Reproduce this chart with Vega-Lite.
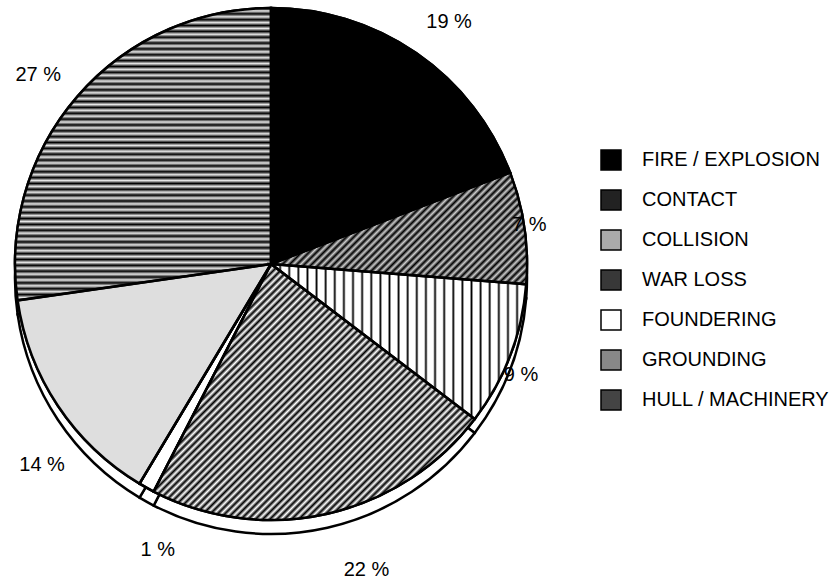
{
"$schema": "https://vega.github.io/schema/vega-lite/v6.json",
"width": 542,
"height": 528,
"padding": {"left": 0, "top": 0, "right": 295, "bottom": 56},
"autosize": {"type": "none"},
"background": "#ffffff",
"config": {"view": {"stroke": null}, "font": "Liberation Sans"},
"data": {"values": [
{"idx": 1, "cause": "FIRE / EXPLOSION", "pct": 19, "label": "19 %"},
{"idx": 2, "cause": "CONTACT", "pct": 7, "label": "7 %"},
{"idx": 3, "cause": "COLLISION", "pct": 9, "label": "9 %"},
{"idx": 4, "cause": "WAR LOSS", "pct": 22, "label": "22 %"},
{"idx": 5, "cause": "FOUNDERING", "pct": 1, "label": "1 %"},
{"idx": 6, "cause": "GROUNDING", "pct": 14, "label": "14 %"},
{"idx": 7, "cause": "HULL / MACHINERY", "pct": 27, "label": "27 %"}
]},
"layer": [
{"mark": {"type": "arc", "radius": 256, "yOffset": 14, "fill": "#ffffff", "stroke": "#000000", "strokeWidth": 2.5},
 "encoding": {"theta": {"field": "pct", "type": "quantitative", "stack": true}, "order": {"field": "idx", "type": "quantitative"}, "detail": {"field": "cause", "type": "nominal"}}},
{"mark": {"type": "arc", "radius": 256, "stroke": "#000000", "strokeWidth": 2.5},
 "encoding": {"theta": {"field": "pct", "type": "quantitative", "stack": true}, "order": {"field": "idx", "type": "quantitative"},
  "color": {"field": "cause", "type": "nominal",
   "scale": {"domain": ["FIRE / EXPLOSION", "CONTACT", "COLLISION", "WAR LOSS", "FOUNDERING", "GROUNDING", "HULL / MACHINERY"], "range": ["#000000", "#222222", "#aaaaaa", "#383838", "#ffffff", "#888888", "#444444"]},
   "legend": {"title": null, "orient": "none", "legendX": 600, "legendY": 149, "symbolType": "square", "symbolSize": 400, "symbolStrokeColor": "#000000", "symbolStrokeWidth": 1.5, "labelFont": "Liberation Sans", "labelFontSize": 20, "labelColor": "#000000", "labelOffset": 20, "rowPadding": 14, "padding": 0, "labelLimit": 400}}}},
{"mark": {"type": "arc", "radius": 256, "strokeWidth": 0, "fill": "#dedede"},
 "encoding": {"theta": {"field": "pct", "type": "quantitative", "stack": true}, "order": {"field": "idx", "type": "quantitative"}, "detail": {"field": "cause", "type": "nominal"},
  "fillOpacity": {"condition": {"test": "datum.idx == 6", "value": 1}, "value": 0}}},
{"mark": {"type": "arc", "radius": 256, "strokeWidth": 0, "fill": {"gradient": "linear", "x1": 0, "y1": 0, "x2": 1.207, "y2": 0.526, "stops": [
{"offset":0,"color":"#000"},{"offset":0.01,"color":"#ccc"},{"offset":0.02,"color":"#000"},{"offset":0.03,"color":"#ccc"},{"offset":0.04,"color":"#000"},{"offset":0.05,"color":"#ccc"},{"offset":0.06,"color":"#000"},{"offset":0.07,"color":"#ccc"},{"offset":0.08,"color":"#000"},{"offset":0.09,"color":"#ccc"},
{"offset":0.1,"color":"#000"},{"offset":0.11,"color":"#ccc"},{"offset":0.12,"color":"#000"},{"offset":0.13,"color":"#ccc"},{"offset":0.14,"color":"#000"},{"offset":0.15,"color":"#ccc"},{"offset":0.16,"color":"#000"},{"offset":0.17,"color":"#ccc"},{"offset":0.18,"color":"#000"},{"offset":0.19,"color":"#ccc"},
{"offset":0.2,"color":"#000"},{"offset":0.21,"color":"#ccc"},{"offset":0.22,"color":"#000"},{"offset":0.23,"color":"#ccc"},{"offset":0.24,"color":"#000"},{"offset":0.25,"color":"#ccc"},{"offset":0.26,"color":"#000"},{"offset":0.27,"color":"#ccc"},{"offset":0.28,"color":"#000"},{"offset":0.29,"color":"#ccc"},
{"offset":0.3,"color":"#000"},{"offset":0.31,"color":"#ccc"},{"offset":0.32,"color":"#000"},{"offset":0.33,"color":"#ccc"},{"offset":0.34,"color":"#000"},{"offset":0.35,"color":"#ccc"},{"offset":0.36,"color":"#000"},{"offset":0.37,"color":"#ccc"},{"offset":0.38,"color":"#000"},{"offset":0.39,"color":"#ccc"},
{"offset":0.4,"color":"#000"},{"offset":0.41,"color":"#ccc"},{"offset":0.42,"color":"#000"},{"offset":0.43,"color":"#ccc"},{"offset":0.44,"color":"#000"},{"offset":0.45,"color":"#ccc"},{"offset":0.46,"color":"#000"},{"offset":0.47,"color":"#ccc"},{"offset":0.48,"color":"#000"},{"offset":0.49,"color":"#ccc"},
{"offset":0.5,"color":"#000"},{"offset":0.51,"color":"#ccc"},{"offset":0.52,"color":"#000"},{"offset":0.53,"color":"#ccc"},{"offset":0.54,"color":"#000"},{"offset":0.55,"color":"#ccc"},{"offset":0.56,"color":"#000"},{"offset":0.57,"color":"#ccc"},{"offset":0.58,"color":"#000"},{"offset":0.59,"color":"#ccc"},
{"offset":0.6,"color":"#000"},{"offset":0.61,"color":"#ccc"},{"offset":0.62,"color":"#000"},{"offset":0.63,"color":"#ccc"},{"offset":0.64,"color":"#000"},{"offset":0.65,"color":"#ccc"},{"offset":0.66,"color":"#000"},{"offset":0.67,"color":"#ccc"},{"offset":0.68,"color":"#000"},{"offset":0.69,"color":"#ccc"},
{"offset":0.7,"color":"#000"},{"offset":0.71,"color":"#ccc"},{"offset":0.72,"color":"#000"},{"offset":0.73,"color":"#ccc"},{"offset":0.74,"color":"#000"},{"offset":0.75,"color":"#ccc"},{"offset":0.76,"color":"#000"},{"offset":0.77,"color":"#ccc"},{"offset":0.78,"color":"#000"},{"offset":0.79,"color":"#ccc"},
{"offset":0.8,"color":"#000"},{"offset":0.81,"color":"#ccc"},{"offset":0.82,"color":"#000"},{"offset":0.83,"color":"#ccc"},{"offset":0.84,"color":"#000"},{"offset":0.85,"color":"#ccc"},{"offset":0.86,"color":"#000"},{"offset":0.87,"color":"#ccc"},{"offset":0.88,"color":"#000"},{"offset":0.89,"color":"#ccc"},
{"offset":0.9,"color":"#000"},{"offset":0.91,"color":"#ccc"},{"offset":0.92,"color":"#000"},{"offset":0.93,"color":"#ccc"},{"offset":0.94,"color":"#000"},{"offset":0.95,"color":"#ccc"},{"offset":0.96,"color":"#000"},{"offset":0.97,"color":"#ccc"},{"offset":0.98,"color":"#000"},{"offset":0.99,"color":"#ccc"},
{"offset":1,"color":"#000"}]}},
 "encoding": {"theta": {"field": "pct", "type": "quantitative", "stack": true}, "order": {"field": "idx", "type": "quantitative"}, "detail": {"field": "cause", "type": "nominal"},
  "fillOpacity": {"condition": {"test": "datum.idx == 2", "value": 1}, "value": 0}}},
{"mark": {"type": "arc", "radius": 256, "strokeWidth": 0, "fill": {"gradient": "linear", "x1": 0, "y1": 0, "x2": 1, "y2": 0, "stops": [
{"offset":0,"color":"#000"},{"offset":0.0071,"color":"#fff"},{"offset":0.0286,"color":"#fff"},
{"offset":0.0357,"color":"#000"},{"offset":0.0428,"color":"#fff"},{"offset":0.0643,"color":"#fff"},
{"offset":0.0714,"color":"#000"},{"offset":0.0785,"color":"#fff"},{"offset":0.1,"color":"#fff"},
{"offset":0.1071,"color":"#000"},{"offset":0.1142,"color":"#fff"},{"offset":0.1357,"color":"#fff"},
{"offset":0.1429,"color":"#000"},{"offset":0.15,"color":"#fff"},{"offset":0.1715,"color":"#fff"},
{"offset":0.1786,"color":"#000"},{"offset":0.1857,"color":"#fff"},{"offset":0.2072,"color":"#fff"},
{"offset":0.2143,"color":"#000"},{"offset":0.2214,"color":"#fff"},{"offset":0.2429,"color":"#fff"},
{"offset":0.25,"color":"#000"},{"offset":0.2571,"color":"#fff"},{"offset":0.2786,"color":"#fff"},
{"offset":0.2857,"color":"#000"},{"offset":0.2928,"color":"#fff"},{"offset":0.3143,"color":"#fff"},
{"offset":0.3214,"color":"#000"},{"offset":0.3285,"color":"#fff"},{"offset":0.35,"color":"#fff"},
{"offset":0.3571,"color":"#000"},{"offset":0.3642,"color":"#fff"},{"offset":0.3857,"color":"#fff"},
{"offset":0.3929,"color":"#000"},{"offset":0.4,"color":"#fff"},{"offset":0.4215,"color":"#fff"},
{"offset":0.4286,"color":"#000"},{"offset":0.4357,"color":"#fff"},{"offset":0.4572,"color":"#fff"},
{"offset":0.4643,"color":"#000"},{"offset":0.4714,"color":"#fff"},{"offset":0.4929,"color":"#fff"},
{"offset":0.5,"color":"#000"},{"offset":0.5071,"color":"#fff"},{"offset":0.5286,"color":"#fff"},
{"offset":0.5357,"color":"#000"},{"offset":0.5428,"color":"#fff"},{"offset":0.5643,"color":"#fff"},
{"offset":0.5714,"color":"#000"},{"offset":0.5785,"color":"#fff"},{"offset":0.6,"color":"#fff"},
{"offset":0.6071,"color":"#000"},{"offset":0.6142,"color":"#fff"},{"offset":0.6357,"color":"#fff"},
{"offset":0.6429,"color":"#000"},{"offset":0.65,"color":"#fff"},{"offset":0.6715,"color":"#fff"},
{"offset":0.6786,"color":"#000"},{"offset":0.6857,"color":"#fff"},{"offset":0.7072,"color":"#fff"},
{"offset":0.7143,"color":"#000"},{"offset":0.7214,"color":"#fff"},{"offset":0.7429,"color":"#fff"},
{"offset":0.75,"color":"#000"},{"offset":0.7571,"color":"#fff"},{"offset":0.7786,"color":"#fff"},
{"offset":0.7857,"color":"#000"},{"offset":0.7928,"color":"#fff"},{"offset":0.8143,"color":"#fff"},
{"offset":0.8214,"color":"#000"},{"offset":0.8285,"color":"#fff"},{"offset":0.85,"color":"#fff"},
{"offset":0.8571,"color":"#000"},{"offset":0.8642,"color":"#fff"},{"offset":0.8857,"color":"#fff"},
{"offset":0.8929,"color":"#000"},{"offset":0.9,"color":"#fff"},{"offset":0.9215,"color":"#fff"},
{"offset":0.9286,"color":"#000"},{"offset":0.9357,"color":"#fff"},{"offset":0.9572,"color":"#fff"},
{"offset":0.9643,"color":"#000"},{"offset":0.9714,"color":"#fff"},{"offset":0.9929,"color":"#fff"},
{"offset":1,"color":"#000"}]}},
 "encoding": {"theta": {"field": "pct", "type": "quantitative", "stack": true}, "order": {"field": "idx", "type": "quantitative"}, "detail": {"field": "cause", "type": "nominal"},
  "fillOpacity": {"condition": {"test": "datum.idx == 3", "value": 1}, "value": 0}}},
{"mark": {"type": "arc", "radius": 256, "strokeWidth": 0, "fill": {"gradient": "linear", "x1": 0, "y1": 0, "x2": 1.0987, "y2": 0.8762, "stops": [
{"offset":0,"color":"#fff"},{"offset":0.00625,"color":"#000"},{"offset":0.0125,"color":"#fff"},{"offset":0.01875,"color":"#000"},{"offset":0.025,"color":"#fff"},{"offset":0.03125,"color":"#000"},{"offset":0.0375,"color":"#fff"},{"offset":0.04375,"color":"#000"},{"offset":0.05,"color":"#fff"},{"offset":0.05625,"color":"#000"},{"offset":0.0625,"color":"#fff"},{"offset":0.06875,"color":"#000"},{"offset":0.075,"color":"#fff"},{"offset":0.08125,"color":"#000"},{"offset":0.0875,"color":"#fff"},{"offset":0.09375,"color":"#000"},
{"offset":0.1,"color":"#fff"},{"offset":0.10625,"color":"#000"},{"offset":0.1125,"color":"#fff"},{"offset":0.11875,"color":"#000"},{"offset":0.125,"color":"#fff"},{"offset":0.13125,"color":"#000"},{"offset":0.1375,"color":"#fff"},{"offset":0.14375,"color":"#000"},{"offset":0.15,"color":"#fff"},{"offset":0.15625,"color":"#000"},{"offset":0.1625,"color":"#fff"},{"offset":0.16875,"color":"#000"},{"offset":0.175,"color":"#fff"},{"offset":0.18125,"color":"#000"},{"offset":0.1875,"color":"#fff"},{"offset":0.19375,"color":"#000"},
{"offset":0.2,"color":"#fff"},{"offset":0.20625,"color":"#000"},{"offset":0.2125,"color":"#fff"},{"offset":0.21875,"color":"#000"},{"offset":0.225,"color":"#fff"},{"offset":0.23125,"color":"#000"},{"offset":0.2375,"color":"#fff"},{"offset":0.24375,"color":"#000"},{"offset":0.25,"color":"#fff"},{"offset":0.25625,"color":"#000"},{"offset":0.2625,"color":"#fff"},{"offset":0.26875,"color":"#000"},{"offset":0.275,"color":"#fff"},{"offset":0.28125,"color":"#000"},{"offset":0.2875,"color":"#fff"},{"offset":0.29375,"color":"#000"},
{"offset":0.3,"color":"#fff"},{"offset":0.30625,"color":"#000"},{"offset":0.3125,"color":"#fff"},{"offset":0.31875,"color":"#000"},{"offset":0.325,"color":"#fff"},{"offset":0.33125,"color":"#000"},{"offset":0.3375,"color":"#fff"},{"offset":0.34375,"color":"#000"},{"offset":0.35,"color":"#fff"},{"offset":0.35625,"color":"#000"},{"offset":0.3625,"color":"#fff"},{"offset":0.36875,"color":"#000"},{"offset":0.375,"color":"#fff"},{"offset":0.38125,"color":"#000"},{"offset":0.3875,"color":"#fff"},{"offset":0.39375,"color":"#000"},
{"offset":0.4,"color":"#fff"},{"offset":0.40625,"color":"#000"},{"offset":0.4125,"color":"#fff"},{"offset":0.41875,"color":"#000"},{"offset":0.425,"color":"#fff"},{"offset":0.43125,"color":"#000"},{"offset":0.4375,"color":"#fff"},{"offset":0.44375,"color":"#000"},{"offset":0.45,"color":"#fff"},{"offset":0.45625,"color":"#000"},{"offset":0.4625,"color":"#fff"},{"offset":0.46875,"color":"#000"},{"offset":0.475,"color":"#fff"},{"offset":0.48125,"color":"#000"},{"offset":0.4875,"color":"#fff"},{"offset":0.49375,"color":"#000"},
{"offset":0.5,"color":"#fff"},{"offset":0.50625,"color":"#000"},{"offset":0.5125,"color":"#fff"},{"offset":0.51875,"color":"#000"},{"offset":0.525,"color":"#fff"},{"offset":0.53125,"color":"#000"},{"offset":0.5375,"color":"#fff"},{"offset":0.54375,"color":"#000"},{"offset":0.55,"color":"#fff"},{"offset":0.55625,"color":"#000"},{"offset":0.5625,"color":"#fff"},{"offset":0.56875,"color":"#000"},{"offset":0.575,"color":"#fff"},{"offset":0.58125,"color":"#000"},{"offset":0.5875,"color":"#fff"},{"offset":0.59375,"color":"#000"},
{"offset":0.6,"color":"#fff"},{"offset":0.60625,"color":"#000"},{"offset":0.6125,"color":"#fff"},{"offset":0.61875,"color":"#000"},{"offset":0.625,"color":"#fff"},{"offset":0.63125,"color":"#000"},{"offset":0.6375,"color":"#fff"},{"offset":0.64375,"color":"#000"},{"offset":0.65,"color":"#fff"},{"offset":0.65625,"color":"#000"},{"offset":0.6625,"color":"#fff"},{"offset":0.66875,"color":"#000"},{"offset":0.675,"color":"#fff"},{"offset":0.68125,"color":"#000"},{"offset":0.6875,"color":"#fff"},{"offset":0.69375,"color":"#000"},
{"offset":0.7,"color":"#fff"},{"offset":0.70625,"color":"#000"},{"offset":0.7125,"color":"#fff"},{"offset":0.71875,"color":"#000"},{"offset":0.725,"color":"#fff"},{"offset":0.73125,"color":"#000"},{"offset":0.7375,"color":"#fff"},{"offset":0.74375,"color":"#000"},{"offset":0.75,"color":"#fff"},{"offset":0.75625,"color":"#000"},{"offset":0.7625,"color":"#fff"},{"offset":0.76875,"color":"#000"},{"offset":0.775,"color":"#fff"},{"offset":0.78125,"color":"#000"},{"offset":0.7875,"color":"#fff"},{"offset":0.79375,"color":"#000"},
{"offset":0.8,"color":"#fff"},{"offset":0.80625,"color":"#000"},{"offset":0.8125,"color":"#fff"},{"offset":0.81875,"color":"#000"},{"offset":0.825,"color":"#fff"},{"offset":0.83125,"color":"#000"},{"offset":0.8375,"color":"#fff"},{"offset":0.84375,"color":"#000"},{"offset":0.85,"color":"#fff"},{"offset":0.85625,"color":"#000"},{"offset":0.8625,"color":"#fff"},{"offset":0.86875,"color":"#000"},{"offset":0.875,"color":"#fff"},{"offset":0.88125,"color":"#000"},{"offset":0.8875,"color":"#fff"},{"offset":0.89375,"color":"#000"},
{"offset":0.9,"color":"#fff"},{"offset":0.90625,"color":"#000"},{"offset":0.9125,"color":"#fff"},{"offset":0.91875,"color":"#000"},{"offset":0.925,"color":"#fff"},{"offset":0.93125,"color":"#000"},{"offset":0.9375,"color":"#fff"},{"offset":0.94375,"color":"#000"},{"offset":0.95,"color":"#fff"},{"offset":0.95625,"color":"#000"},{"offset":0.9625,"color":"#fff"},{"offset":0.96875,"color":"#000"},{"offset":0.975,"color":"#fff"},{"offset":0.98125,"color":"#000"},{"offset":0.9875,"color":"#fff"},{"offset":0.99375,"color":"#000"},
{"offset":1,"color":"#fff"}]}},
 "encoding": {"theta": {"field": "pct", "type": "quantitative", "stack": true}, "order": {"field": "idx", "type": "quantitative"}, "detail": {"field": "cause", "type": "nominal"},
  "fillOpacity": {"condition": {"test": "datum.idx == 4", "value": 1}, "value": 0}}},
{"mark": {"type": "arc", "radius": 256, "strokeWidth": 0, "fill": {"gradient": "linear", "x1": 0, "y1": 0, "x2": 0, "y2": 1, "stops": [
{"offset":0,"color":"#000"},{"offset":0.01,"color":"#e8e8e8"},{"offset":0.02,"color":"#000"},{"offset":0.03,"color":"#e8e8e8"},{"offset":0.04,"color":"#000"},{"offset":0.05,"color":"#e8e8e8"},{"offset":0.06,"color":"#000"},{"offset":0.07,"color":"#e8e8e8"},{"offset":0.08,"color":"#000"},{"offset":0.09,"color":"#e8e8e8"},
{"offset":0.1,"color":"#000"},{"offset":0.11,"color":"#e8e8e8"},{"offset":0.12,"color":"#000"},{"offset":0.13,"color":"#e8e8e8"},{"offset":0.14,"color":"#000"},{"offset":0.15,"color":"#e8e8e8"},{"offset":0.16,"color":"#000"},{"offset":0.17,"color":"#e8e8e8"},{"offset":0.18,"color":"#000"},{"offset":0.19,"color":"#e8e8e8"},
{"offset":0.2,"color":"#000"},{"offset":0.21,"color":"#e8e8e8"},{"offset":0.22,"color":"#000"},{"offset":0.23,"color":"#e8e8e8"},{"offset":0.24,"color":"#000"},{"offset":0.25,"color":"#e8e8e8"},{"offset":0.26,"color":"#000"},{"offset":0.27,"color":"#e8e8e8"},{"offset":0.28,"color":"#000"},{"offset":0.29,"color":"#e8e8e8"},
{"offset":0.3,"color":"#000"},{"offset":0.31,"color":"#e8e8e8"},{"offset":0.32,"color":"#000"},{"offset":0.33,"color":"#e8e8e8"},{"offset":0.34,"color":"#000"},{"offset":0.35,"color":"#e8e8e8"},{"offset":0.36,"color":"#000"},{"offset":0.37,"color":"#e8e8e8"},{"offset":0.38,"color":"#000"},{"offset":0.39,"color":"#e8e8e8"},
{"offset":0.4,"color":"#000"},{"offset":0.41,"color":"#e8e8e8"},{"offset":0.42,"color":"#000"},{"offset":0.43,"color":"#e8e8e8"},{"offset":0.44,"color":"#000"},{"offset":0.45,"color":"#e8e8e8"},{"offset":0.46,"color":"#000"},{"offset":0.47,"color":"#e8e8e8"},{"offset":0.48,"color":"#000"},{"offset":0.49,"color":"#e8e8e8"},
{"offset":0.5,"color":"#000"},{"offset":0.51,"color":"#e8e8e8"},{"offset":0.52,"color":"#000"},{"offset":0.53,"color":"#e8e8e8"},{"offset":0.54,"color":"#000"},{"offset":0.55,"color":"#e8e8e8"},{"offset":0.56,"color":"#000"},{"offset":0.57,"color":"#e8e8e8"},{"offset":0.58,"color":"#000"},{"offset":0.59,"color":"#e8e8e8"},
{"offset":0.6,"color":"#000"},{"offset":0.61,"color":"#e8e8e8"},{"offset":0.62,"color":"#000"},{"offset":0.63,"color":"#e8e8e8"},{"offset":0.64,"color":"#000"},{"offset":0.65,"color":"#e8e8e8"},{"offset":0.66,"color":"#000"},{"offset":0.67,"color":"#e8e8e8"},{"offset":0.68,"color":"#000"},{"offset":0.69,"color":"#e8e8e8"},
{"offset":0.7,"color":"#000"},{"offset":0.71,"color":"#e8e8e8"},{"offset":0.72,"color":"#000"},{"offset":0.73,"color":"#e8e8e8"},{"offset":0.74,"color":"#000"},{"offset":0.75,"color":"#e8e8e8"},{"offset":0.76,"color":"#000"},{"offset":0.77,"color":"#e8e8e8"},{"offset":0.78,"color":"#000"},{"offset":0.79,"color":"#e8e8e8"},
{"offset":0.8,"color":"#000"},{"offset":0.81,"color":"#e8e8e8"},{"offset":0.82,"color":"#000"},{"offset":0.83,"color":"#e8e8e8"},{"offset":0.84,"color":"#000"},{"offset":0.85,"color":"#e8e8e8"},{"offset":0.86,"color":"#000"},{"offset":0.87,"color":"#e8e8e8"},{"offset":0.88,"color":"#000"},{"offset":0.89,"color":"#e8e8e8"},
{"offset":0.9,"color":"#000"},{"offset":0.91,"color":"#e8e8e8"},{"offset":0.92,"color":"#000"},{"offset":0.93,"color":"#e8e8e8"},{"offset":0.94,"color":"#000"},{"offset":0.95,"color":"#e8e8e8"},{"offset":0.96,"color":"#000"},{"offset":0.97,"color":"#e8e8e8"},{"offset":0.98,"color":"#000"},{"offset":0.99,"color":"#e8e8e8"},
{"offset":1,"color":"#000"}]}},
 "encoding": {"theta": {"field": "pct", "type": "quantitative", "stack": true}, "order": {"field": "idx", "type": "quantitative"}, "detail": {"field": "cause", "type": "nominal"},
  "fillOpacity": {"condition": {"test": "datum.idx == 7", "value": 1}, "value": 0}}},
{"mark": {"type": "arc", "radius": 256, "filled": false, "stroke": "#000000", "strokeWidth": 2.5},
 "encoding": {"theta": {"field": "pct", "type": "quantitative", "stack": true}, "order": {"field": "idx", "type": "quantitative"}, "detail": {"field": "cause", "type": "nominal"}}},
{"mark": {"type": "text", "radius": 300, "dx": 8, "dy": 5, "font": "Liberation Sans", "fontSize": 20, "color": "#000000"},
 "encoding": {"theta": {"field": "pct", "type": "quantitative", "stack": true}, "order": {"field": "idx", "type": "quantitative"}, "detail": {"field": "cause", "type": "nominal"}, "text": {"field": "label"},
  "opacity": {"condition": {"test": "datum.idx == 1", "value": 1}, "value": 0}}},
{"mark": {"type": "text", "radius": 261, "dx": 0, "dy": -2, "font": "Liberation Sans", "fontSize": 20, "color": "#000000"},
 "encoding": {"theta": {"field": "pct", "type": "quantitative", "stack": true}, "order": {"field": "idx", "type": "quantitative"}, "detail": {"field": "cause", "type": "nominal"}, "text": {"field": "label"},
  "opacity": {"condition": {"test": "datum.idx == 2", "value": 1}, "value": 0}}},
{"mark": {"type": "text", "radius": 273, "dx": -5, "dy": 14, "font": "Liberation Sans", "fontSize": 20, "color": "#000000"},
 "encoding": {"theta": {"field": "pct", "type": "quantitative", "stack": true}, "order": {"field": "idx", "type": "quantitative"}, "detail": {"field": "cause", "type": "nominal"}, "text": {"field": "label"},
  "opacity": {"condition": {"test": "datum.idx == 3", "value": 1}, "value": 0}}},
{"mark": {"type": "text", "radius": 320, "dx": 25, "dy": -6, "font": "Liberation Sans", "fontSize": 20, "color": "#000000"},
 "encoding": {"theta": {"field": "pct", "type": "quantitative", "stack": true}, "order": {"field": "idx", "type": "quantitative"}, "detail": {"field": "cause", "type": "nominal"}, "text": {"field": "label"},
  "opacity": {"condition": {"test": "datum.idx == 4", "value": 1}, "value": 0}}},
{"mark": {"type": "text", "radius": 307, "dx": 36, "dy": 18, "font": "Liberation Sans", "fontSize": 20, "color": "#000000"},
 "encoding": {"theta": {"field": "pct", "type": "quantitative", "stack": true}, "order": {"field": "idx", "type": "quantitative"}, "detail": {"field": "cause", "type": "nominal"}, "text": {"field": "label"},
  "opacity": {"condition": {"test": "datum.idx == 5", "value": 1}, "value": 0}}},
{"mark": {"type": "text", "radius": 305, "dx": 25, "dy": 32, "font": "Liberation Sans", "fontSize": 20, "color": "#000000"},
 "encoding": {"theta": {"field": "pct", "type": "quantitative", "stack": true}, "order": {"field": "idx", "type": "quantitative"}, "detail": {"field": "cause", "type": "nominal"}, "text": {"field": "label"},
  "opacity": {"condition": {"test": "datum.idx == 6", "value": 1}, "value": 0}}},
{"mark": {"type": "text", "radius": 300, "dx": -6, "dy": 7, "font": "Liberation Sans", "fontSize": 20, "color": "#000000"},
 "encoding": {"theta": {"field": "pct", "type": "quantitative", "stack": true}, "order": {"field": "idx", "type": "quantitative"}, "detail": {"field": "cause", "type": "nominal"}, "text": {"field": "label"},
  "opacity": {"condition": {"test": "datum.idx == 7", "value": 1}, "value": 0}}}
]
}
